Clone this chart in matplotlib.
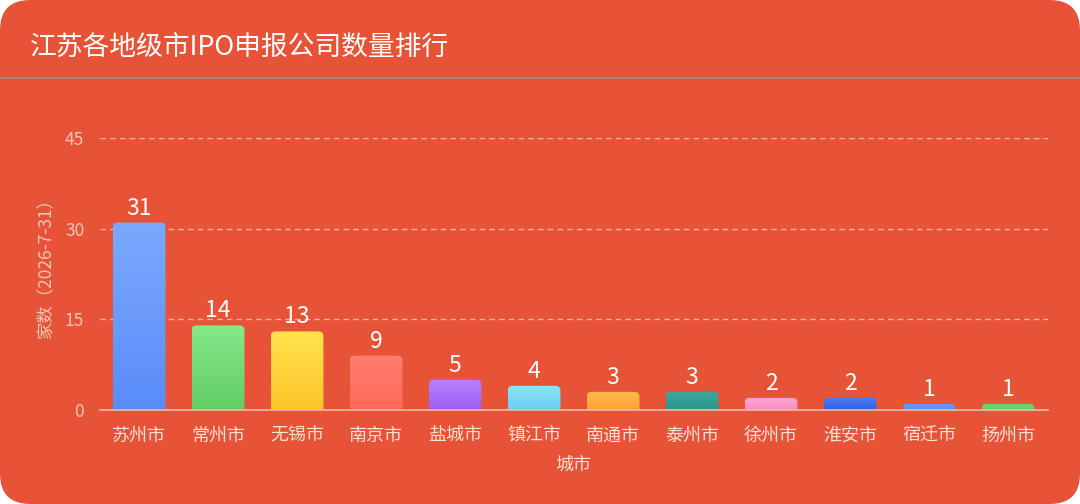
import matplotlib
matplotlib.use("Agg")
import matplotlib.pyplot as plt
import numpy as np
from matplotlib.patches import FancyBboxPatch
from matplotlib.colors import LinearSegmentedColormap

plt.rcParams['font.family'] = ['Noto Sans CJK SC', 'DejaVu Sans']

title = "江苏各地级市IPO申报公司数量排行"
cities = ["苏州市", "常州市", "无锡市", "南京市", "盐城市", "镇江市",
          "南通市", "泰州市", "徐州市", "淮安市", "宿迁市", "扬州市"]
counts = [31, 14, 13, 9, 5, 4, 3, 3, 2, 2, 1, 1]
yticks = [0, 15, 30, 45]
ylabel = "家数（2026-7-31）"
xlabel = "城市"
# gradient colours (top, bottom)
top_colors = ["#7aaafe", "#86e888", "#ffe24c", "#ff7e70", "#b880ff", "#8ae5fb",
              "#ffbb4c", "#3ea9a2", "#ffa8d3", "#4e7cf2", "#6a9af9", "#70d672"]
bot_colors = ["#5a8cf8", "#62cd65", "#fec42a", "#ff6858", "#9d5ff0", "#6bd0f1",
              "#ffa133", "#2a948d", "#f88ec3", "#2f60e6", "#5b8ff9", "#64d066"]

BG = "#e65336"
W, H = 1080, 504
fig = plt.figure(figsize=(W / 100, H / 100), dpi=100)
fig.patch.set_facecolor("white")

card = FancyBboxPatch((0, 0), 1, 1, boxstyle="round,pad=0,rounding_size=0.028",
                      mutation_aspect=W / H, transform=fig.transFigure,
                      facecolor=BG, edgecolor="none", zorder=-10)
fig.patches.append(card)

fig.text(30 / W, 1 - 47 / H, title, color="white", fontsize=19.3,
         ha="left", va="center")
fig.add_artist(plt.Line2D([0, 1], [1 - 78 / H, 1 - 78 / H],
                          transform=fig.transFigure, color="#a08e88", lw=1.2))

ax = fig.add_axes([99.5 / W, 1 - 410 / H, 948 / W, 272 / H])
ax.set_facecolor("none")
x = np.arange(len(cities))
ax.set_xlim(-0.5, len(cities) - 0.5)
ax.set_ylim(0, 45)

bw = 0.67
bars = ax.bar(x, counts, width=bw, color="none", edgecolor="none")

# rounded gradient bars
px_x = 948 / len(cities)   # px per x unit
px_y = 272 / 45            # px per y unit
r_px = 5
rad = r_px / px_x
aspect = px_x / px_y
for i, b in enumerate(bars):
    x0 = b.get_x()
    h = b.get_height()
    patch = FancyBboxPatch((x0, -2), bw, h + 2,
                           boxstyle=f"round,pad=0,rounding_size={rad}",
                           mutation_aspect=aspect, facecolor="none",
                           edgecolor="none", zorder=2)
    ax.add_patch(patch)
    cmap = LinearSegmentedColormap.from_list("g", [bot_colors[i], top_colors[i]])
    grad = np.linspace(0, 1, 100).reshape(-1, 1)
    im = ax.imshow(grad, extent=(x0, x0 + bw, 0, h), origin="lower",
                   cmap=cmap, aspect="auto", zorder=2)
    im.set_clip_path(patch)
    ax.text(b.get_x() + bw / 2, h + 0.5, str(counts[i]), ha="center",
            va="bottom", color="white", fontsize=16.5)

ax.set_xlim(-0.5, len(cities) - 0.5)
ax.set_ylim(0, 45)

ax.set_yticks(yticks)
ax.set_yticklabels([str(v) for v in yticks], color="#f6c4b8", fontsize=12.5)
ax.set_xticks(x)
ax.set_xticklabels(cities, color="#fbe0d8", fontsize=13)
ax.tick_params(axis="both", length=0)
ax.tick_params(axis="y", pad=11)
ax.tick_params(axis="x", pad=12)
for yv in yticks[1:]:
    ax.axhline(yv, color="#f6b3a4", lw=1, ls=(0, (4, 3)), zorder=1)
for s in ["top", "right", "left"]:
    ax.spines[s].set_visible(False)
ax.spines["bottom"].set_color("#f2b8aa")
ax.spines["bottom"].set_linewidth(1.2)
ax.spines["bottom"].set_zorder(3)

ax.set_ylabel(ylabel, color="#f6c4b8", fontsize=12.5)
ax.yaxis.set_label_coords(-45 / 948, 1 - (264 - 138) / 272)
ax.set_xlabel(xlabel, color="#fbe0d8", fontsize=13, labelpad=9)

fig.savefig("out.png", dpi=100, facecolor=fig.get_facecolor())
